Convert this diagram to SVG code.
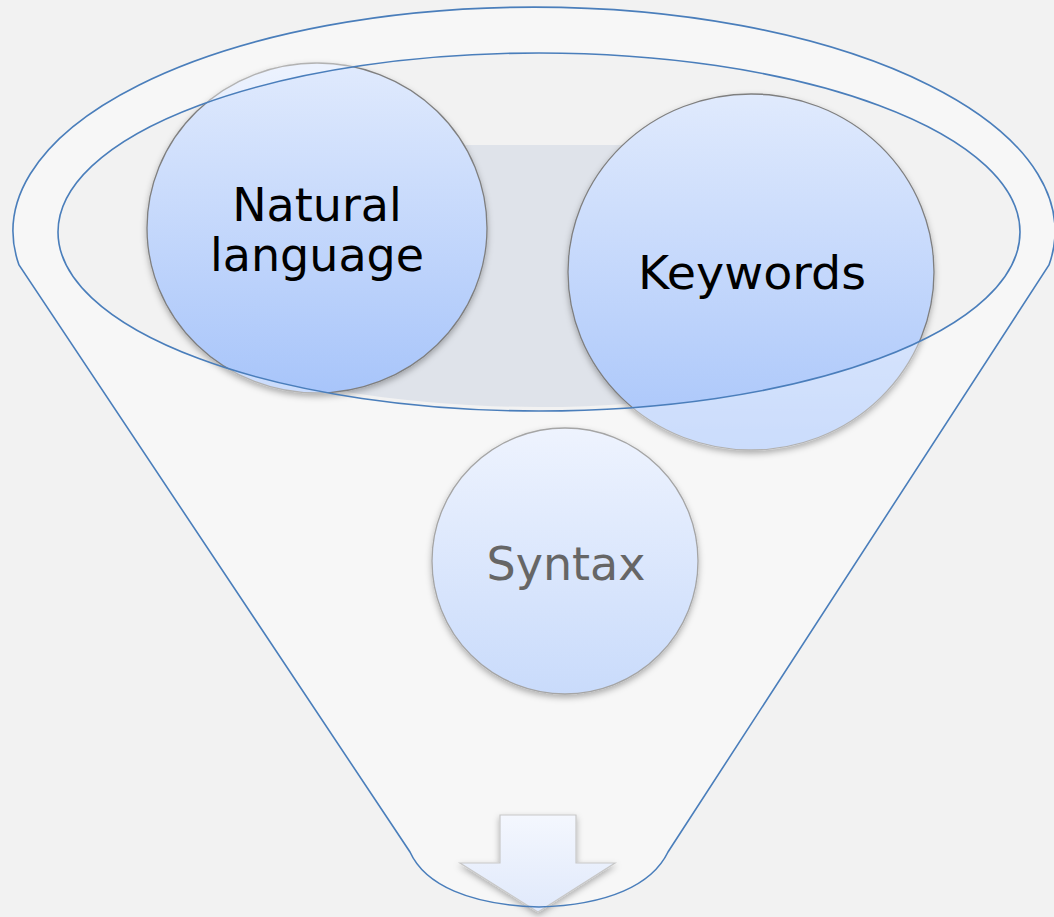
<svg xmlns="http://www.w3.org/2000/svg" width="1054" height="917" viewBox="0 0 1054 917">
  <defs>
    <style>
      .outline { fill: none; stroke: #4a7ebb; stroke-width: 1.6; }
      .label { font-family: "DejaVu Sans", Verdana, sans-serif; font-size: 46px; text-anchor: middle; }
      .node { stroke: #7f7f7f; stroke-width: 1.3; filter: url(#shadow); }
    </style>
    <linearGradient id="gBlue" x1="0" y1="0" x2="0" y2="1">
      <stop offset="0" stop-color="#e0eafd"/>
      <stop offset="1" stop-color="#a8c5fa"/>
    </linearGradient>
    <linearGradient id="gSyntax" x1="0" y1="0" x2="0" y2="1">
      <stop offset="0" stop-color="#eef3fe"/>
      <stop offset="1" stop-color="#c9dbfb"/>
    </linearGradient>
    <linearGradient id="gArrow" x1="0" y1="0" x2="0" y2="1">
      <stop offset="0" stop-color="#f4f7fe"/>
      <stop offset="1" stop-color="#e0e9fb"/>
    </linearGradient>
    <filter id="shadow" x="-10%" y="-10%" width="120%" height="125%">
      <feDropShadow dx="0" dy="3" stdDeviation="3" flood-color="#000" flood-opacity="0.3"/>
    </filter>
    <clipPath id="outsideInner">
      <path clip-rule="evenodd" d="M0 0H1054V917H0Z M58 232 A481 179 0 1 0 1020 232 A481 179 0 1 0 58 232Z"/>
    </clipPath>
    <clipPath id="grayClip">
      <rect x="250" y="145" width="600" height="300" rx="60"/>
    </clipPath>
  </defs>

  <rect x="0" y="0" width="1054" height="917" fill="#f2f2f2"/>

  <g id="funnel">
    <path fill="#f7f7f7" d="M19 265 A521 224 0 1 1 1049 265 L668 852 C652 885 608 905 539 907 C470 905 425 885 410 852 Z"/>
    <ellipse cx="539" cy="232" rx="481" ry="179" fill="#f2f2f2"/>
    <ellipse cx="539" cy="229" rx="477" ry="178" fill="#dfe3ea" clip-path="url(#grayClip)"/>
  </g>

  <g id="connectors">
    <g id="arrow">
      <path d="M500 815 H576 V863 H615 L538 912 L460 863 H500 Z" fill="url(#gArrow)" stroke="#c8c8c8" stroke-width="1.2" filter="url(#shadow)"/>
    </g>
  </g>

  <g id="funnel-outline">
    <path class="outline" d="M19 265 A521 224 0 1 1 1049 265 L668 852 C652 885 608 905 539 907 C470 905 425 885 410 852 Z"/>
  </g>

  <g id="node-natural">
    <ellipse class="node" cx="317" cy="228" rx="170" ry="165" fill="url(#gBlue)"/>
    <ellipse cx="317" cy="228" rx="171" ry="166" fill="#ffffff" fill-opacity="0.4" clip-path="url(#outsideInner)"/>
    <text class="label" x="317" y="221" fill="#000">Natural</text>
    <text class="label" x="317" y="271" fill="#000">language</text>
  </g>

  <g id="node-keywords">
    <ellipse class="node" cx="751" cy="272" rx="183" ry="178" fill="url(#gBlue)"/>
    <ellipse cx="751" cy="272" rx="184" ry="179" fill="#ffffff" fill-opacity="0.4" clip-path="url(#outsideInner)"/>
    <text class="label" x="752" y="289" fill="#000" textLength="228" lengthAdjust="spacingAndGlyphs">Keywords</text>
  </g>

  <g id="node-syntax">
    <circle cx="565" cy="561" r="133" fill="url(#gSyntax)" stroke="#a5a5a5" stroke-width="1.3" filter="url(#shadow)"/>
    <text class="label" x="566" y="580" fill="#666666">Syntax</text>
  </g>

  <g id="inner-rim">
    <ellipse class="outline" cx="539" cy="232" rx="481" ry="179"/>
  </g>
</svg>
